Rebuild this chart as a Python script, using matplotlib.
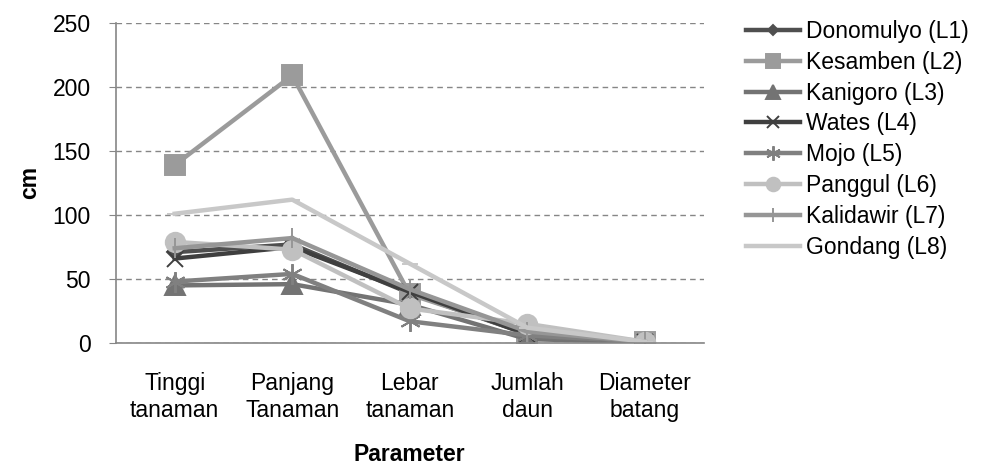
import matplotlib

matplotlib.use("Agg")
import matplotlib.pyplot as plt

plt.rcParams["font.family"] = ["Liberation Sans", "DejaVu Sans"]

categories = ["Tinggi\ntanaman", "Panjang\nTanaman", "Lebar\ntanaman", "Jumlah\ndaun", "Diameter\nbatang"]

donomulyo = [71, 77, 39, 7, 1]
kesamben = [139, 209, 38, 8, 1]
kanigoro = [45, 46, 30, 3, 1]
wates = [66, 75, 40, 7, 1]
mojo = [48, 54, 17, 6, 1]
panggul = [79, 73, 27, 15, 1]
kalidawir = [74, 82, 42, 9, 1]
gondang = [101, 112, 62, 12, 1]

series = [
    ("Donomulyo (L1)", donomulyo, "#4f4f4f", "D", 8),
    ("Kesamben (L2)", kesamben, "#9b9b9b", "s", 14),
    ("Kanigoro (L3)", kanigoro, "#737373", "^", 14),
    ("Wates (L4)", wates, "#3f3f3f", "x", 12),
    ("Mojo (L5)", mojo, "#808080", (6, 2, 0), 15),
    ("Panggul (L6)", panggul, "#c0c0c0", "o", 14),
    ("Kalidawir (L7)", kalidawir, "#969696", "|", 15),
    ("Gondang (L8)", gondang, "#c8c8c8", "_", 12),
]

fs = 16.5

fig = plt.figure(figsize=(9.86, 4.68), dpi=100)
ax = fig.add_axes([0.1176, 0.267, 0.596, 0.684])

x = list(range(len(categories)))
for label, vals, color, marker, ms in series:
    ax.plot(x, vals, color=color, lw=3.2, marker=marker, markersize=ms,
            markeredgewidth=1.4, markeredgecolor=color, label=label)

ax.set_xlim(-0.5, len(categories) - 0.5)
ax.set_ylim(0, 250)
ax.set_yticks(range(0, 251, 50))
ax.set_xticks(x)
ax.set_xticklabels(categories, fontsize=fs, linespacing=1.2)
ax.tick_params(axis="y", labelsize=fs, length=5, color="#868686", pad=13)
ax.tick_params(axis="x", length=0, pad=21)
ax.yaxis.grid(True, linestyle=(0, (4, 3)), color="#868686", lw=1)
ax.set_axisbelow(True)
for s in ["top", "right"]:
    ax.spines[s].set_visible(False)
for s in ["left", "bottom"]:
    ax.spines[s].set_color("#868686")
    ax.spines[s].set_linewidth(1.2)

ax.set_ylabel("cm", fontsize=fs, fontweight="bold", labelpad=8)
ax.set_xlabel("Parameter", fontsize=fs, fontweight="bold", labelpad=15)

fig.legend(loc="upper left", bbox_to_anchor=(0.7566, 0.957), frameon=False,
           fontsize=fs, handlelength=2.36, handletextpad=0.26, labelspacing=0.34,
           borderpad=0, borderaxespad=0, markerscale=0.7)

fig.savefig("out.png", dpi=100)
